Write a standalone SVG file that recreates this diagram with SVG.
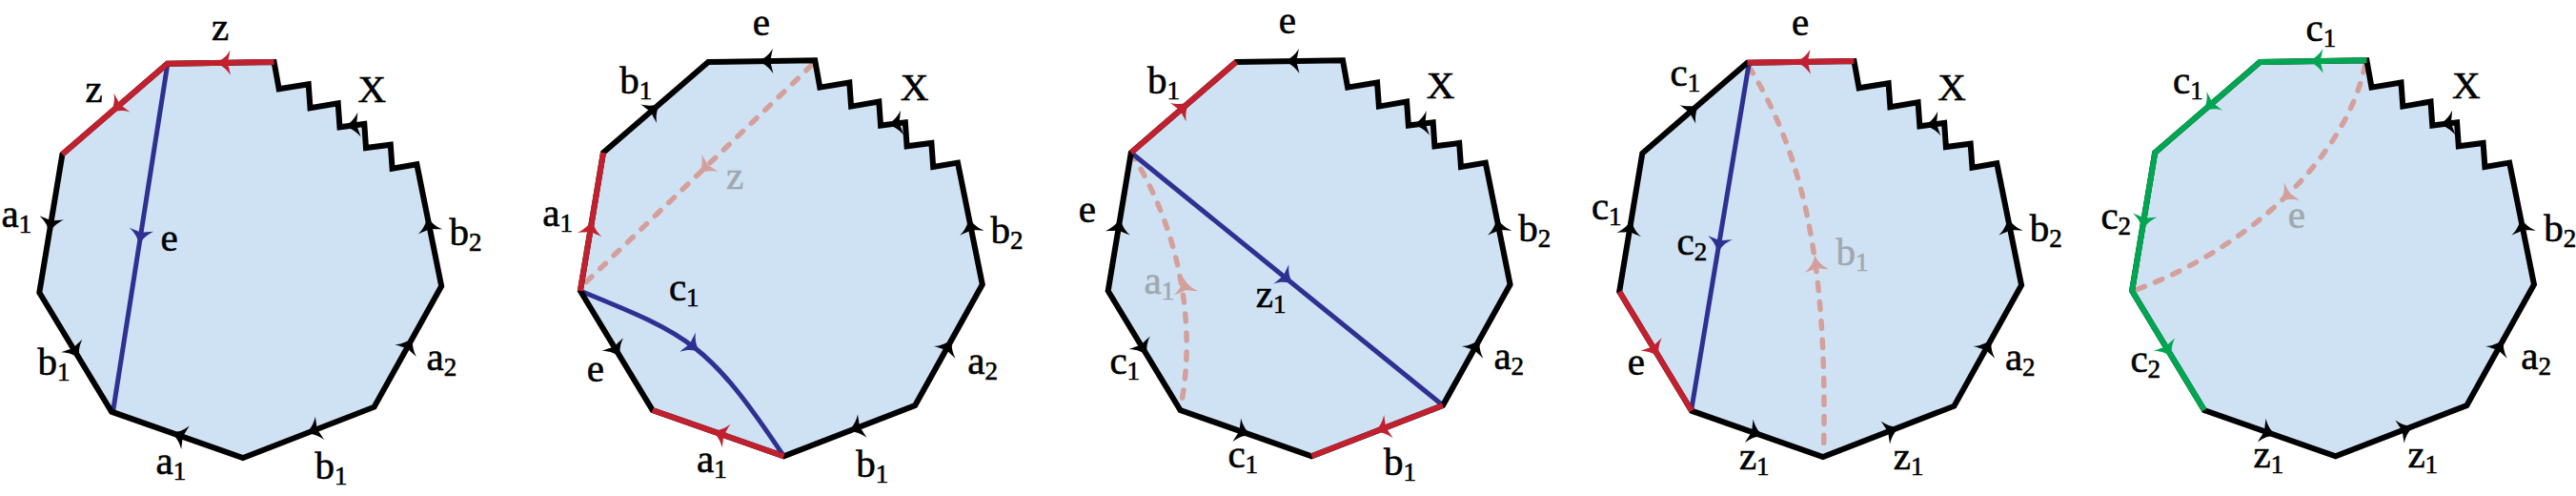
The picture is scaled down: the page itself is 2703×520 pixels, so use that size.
<svg xmlns="http://www.w3.org/2000/svg" xmlns:xlink="http://www.w3.org/1999/xlink" width="2703" height="520" viewBox="0 0 2703 520">
<style>
.pf{fill:#cfe2f3;stroke:none}
.po{fill:none;stroke:#000;stroke-width:6;stroke-linejoin:miter;stroke-miterlimit:10}
.r{fill:none;stroke:#c1202f;stroke-width:6;stroke-linejoin:miter}
.g{fill:none;stroke:#00a651;stroke-width:6;stroke-linejoin:miter}
.bl{fill:none;stroke:#2e3192;stroke-width:5}
.d{fill:none;stroke:#d4a09b;stroke-width:5.5;stroke-dasharray:8 12;stroke-linecap:round}
.ak{fill:#000}.ar{fill:#c1202f}.ab{fill:#2e3192}.ag{fill:#00a651}.ad{fill:#d4a09b}
.t{font-family:"Liberation Serif","Times New Roman",serif;font-size:41px;fill:#000;stroke:#000;stroke-width:0.6}
.gr{fill:#a0a8ae;stroke:#a0a8ae}
.s{font-size:27px}
</style>
<defs>
<path id="poly" d="M0,0 L112,-1.7 L117.1,26.6 L148.1,21.6 L149.9,46.6 L179.1,41.6 L180.9,66.6 L206.7,63.3 L208.4,88.3 L234.2,85 L236,110 L261.8,105.6 L287.6,233.3 L217,360 L79.3,413.3 L-58.5,365 L-134.3,240 L-110.2,95 Z"/>
<path id="ah" d="M2.5,0 C-4,-1.7 -9.8,-5.8 -14.5,-13 C-13.2,-7.5 -12.6,-3.5 -11.3,0 C-12.6,3.5 -13.2,7.5 -14.5,13 C-9.8,5.8 -4,1.7 2.5,0 Z"/>
</defs>

<g id="panel1" transform="translate(175.6,66.7)">
<use href="#poly" class="pf"/>
<g id="p1-connectors">
<path class="bl" d="M0,1.7 L-56.8,363.3"/>
</g>
<use href="#poly" class="po"/>
<path class="r" d="M-110.2,95 L0,0 L112,-1.7"/>
<use href="#ah" class="ar" transform="translate(51.7,-0.8) rotate(179.1)"/>
<use href="#ah" class="ar" transform="translate(-58.5,50.4) rotate(139.2)"/>
<use href="#ah" class="ak" transform="translate(-123.7,176) rotate(99.4)"/>
<use href="#ah" class="ak" transform="translate(-92.9,308.3) rotate(58.8)"/>
<use href="#ah" class="ak" transform="translate(5.2,387.3) rotate(-160.7)"/>
<use href="#ah" class="ak" transform="translate(146.4,387.3) rotate(158.8)"/>
<use href="#ah" class="ak" transform="translate(257,288.3) rotate(-60.9)"/>
<use href="#ah" class="ak" transform="translate(273,162) rotate(-101.4)"/>
<use href="#ah" class="ak" transform="translate(187,65.8) rotate(172.7)"/>
<use href="#ah" class="ab" transform="translate(-29.3,188.3) rotate(98.9)"/>
<text class="t" x="46.5" y="-25">z</text>
<text class="t" x="-86" y="40">z</text>
<text class="t" x="200" y="40">X</text>
<text class="t" x="-174" y="171">a<tspan class="s" dy="6">1</tspan></text>
<text class="t" x="-7" y="196.7">e</text>
<text class="t" x="296" y="190">b<tspan class="s" dy="6">2</tspan></text>
<text class="t" x="-136" y="326.7">b<tspan class="s" dy="6">1</tspan></text>
<text class="t" x="272" y="321.7">a<tspan class="s" dy="6">2</tspan></text>
<text class="t" x="-12" y="430">a<tspan class="s" dy="6">1</tspan></text>
<text class="t" x="155" y="435">b<tspan class="s" dy="6">1</tspan></text>
</g>

<g id="panel2" transform="translate(743.2,65)">
<use href="#poly" class="pf"/>
<g id="p2-connectors">
<path class="d" d="M108.5,3.3 L-129.2,231.7"/>
<path class="bl" d="M-134.3,240 C-18.5,286.9 0,295.3 79.3,413.3"/>
</g>
<use href="#poly" class="po"/>
<path class="r" d="M-134.3,240 L-110.2,95"/>
<path class="r" d="M79.3,413.3 L-58.5,365"/>
<use href="#ah" class="ak" transform="translate(53.4,-0.8) rotate(179.1)"/>
<use href="#ah" class="ak" transform="translate(-51.7,44.6) rotate(-40.8)"/>
<use href="#ah" class="ar" transform="translate(-122.1,166.7) rotate(-80.6)"/>
<use href="#ah" class="ak" transform="translate(-92.9,308.3) rotate(58.8)"/>
<use href="#ah" class="ar" transform="translate(5.2,387.3) rotate(-160.7)"/>
<use href="#ah" class="ak" transform="translate(148,386.7) rotate(158.8)"/>
<use href="#ah" class="ak" transform="translate(255.1,291.7) rotate(-60.9)"/>
<use href="#ah" class="ak" transform="translate(273.8,165) rotate(-101.4)"/>
<use href="#ah" class="ak" transform="translate(189,65.5) rotate(172.7)"/>
<use href="#ah" class="ad" transform="translate(-8.6,116) rotate(136.1)"/>
<use href="#ah" class="ab" transform="translate(-10.35,302.75) rotate(39.3)"/>
<text class="t" x="46.5" y="-28.3">e</text>
<text class="t" x="-93" y="33.3">b<tspan class="s" dy="6">1</tspan></text>
<text class="t" x="201.5" y="40">X</text>
<text class="t gr" x="18.9" y="133.3">z</text>
<text class="t" x="-174" y="171.7">a<tspan class="s" dy="6">1</tspan></text>
<text class="t" x="296.2" y="190">b<tspan class="s" dy="6">2</tspan></text>
<text class="t" x="-41.3" y="250">c<tspan class="s" dy="6">1</tspan></text>
<text class="t" x="-127.4" y="335">e</text>
<text class="t" x="272.1" y="326.7">a<tspan class="s" dy="6">2</tspan></text>
<text class="t" x="-12.1" y="430">a<tspan class="s" dy="6">1</tspan></text>
<text class="t" x="155" y="435">b<tspan class="s" dy="6">1</tspan></text>
</g>

<g id="panel3" transform="translate(1297,65)">
<use href="#poly" class="pf"/>
<g id="p3-connectors">
<path class="d" d="M-110.2,95 C-55,182 -42,285 -58.5,363"/>
<path class="bl" d="M-110.2,95 L217,360"/>
</g>
<use href="#poly" class="po"/>
<path class="r" d="M-110.2,95 L0,0"/>
<path class="r" d="M217,360 L79.3,413.3"/>
<use href="#ah" class="ak" transform="translate(51.7,-0.8) rotate(179.1)"/>
<use href="#ah" class="ar" transform="translate(-49.9,43) rotate(-40.8)"/>
<use href="#ah" class="ak" transform="translate(-121.8,165) rotate(-80.6)"/>
<use href="#ah" class="ak" transform="translate(-93.9,306.7) rotate(58.8)"/>
<use href="#ah" class="ak" transform="translate(14.5,390.6) rotate(19.3)"/>
<use href="#ah" class="ar" transform="translate(146.4,387.3) rotate(158.8)"/>
<use href="#ah" class="ak" transform="translate(255.1,291.7) rotate(-60.9)"/>
<use href="#ah" class="ak" transform="translate(273.8,165) rotate(-101.4)"/>
<use href="#ah" class="ak" transform="translate(187,65.8) rotate(172.7)"/>
<use href="#ah" class="ab" transform="translate(58.5,231.6) rotate(39)"/>
<use href="#ah" class="ad" transform="translate(-55,228) rotate(-100)"/>
<text class="t" x="44.8" y="-30">e</text>
<text class="t" x="-93" y="33.3">b<tspan class="s" dy="6">1</tspan></text>
<text class="t" x="199.8" y="38.3">X</text>
<text class="t" x="-165.3" y="168.3">e</text>
<text class="t" x="296.2" y="188.3">b<tspan class="s" dy="6">2</tspan></text>
<text class="t gr" x="-96.4" y="243.3">a<tspan class="s" dy="6">1</tspan></text>
<text class="t" x="20.7" y="256.7">z<tspan class="s" dy="6">1</tspan></text>
<text class="t" x="-132.6" y="326.7">c<tspan class="s" dy="6">1</tspan></text>
<text class="t" x="270.4" y="321.7">a<tspan class="s" dy="6">2</tspan></text>
<text class="t" x="-8.6" y="425">c<tspan class="s" dy="6">1</tspan></text>
<text class="t" x="155" y="433.3">b<tspan class="s" dy="6">1</tspan></text>
</g>

<g id="panel4" transform="translate(1833.5,65.7)">
<use href="#poly" class="pf"/>
<g id="p4-connectors">
<path class="d" d="M1.7,4.3 C55,90 85,200 80,408"/>
<path class="bl" d="M1.7,1 L-58.5,362.7"/>
</g>
<use href="#poly" class="po"/>
<path class="r" d="M0,0 L112,-1.7"/>
<path class="r" d="M-134.3,240 L-58.5,365"/>
<use href="#ah" class="ar" transform="translate(51.7,-0.8) rotate(179.1)"/>
<use href="#ah" class="ak" transform="translate(-51.7,44.6) rotate(-40.8)"/>
<use href="#ah" class="ak" transform="translate(-122,166) rotate(-80.6)"/>
<use href="#ah" class="ar" transform="translate(-93.4,307.7) rotate(58.8)"/>
<use href="#ah" class="ak" transform="translate(15.5,390.9) rotate(19.3)"/>
<use href="#ah" class="ak" transform="translate(158.4,382.7) rotate(-21.2)"/>
<use href="#ah" class="ak" transform="translate(255.5,291) rotate(-60.9)"/>
<use href="#ah" class="ak" transform="translate(273.6,164.3) rotate(-101.4)"/>
<use href="#ah" class="ak" transform="translate(187,65.8) rotate(172.7)"/>
<use href="#ah" class="ab" transform="translate(-31,197.7) rotate(99.4)"/>
<use href="#ah" class="ad" transform="translate(71,204) rotate(-98)"/>
<text class="t" x="46.5" y="-29">e</text>
<text class="t" x="-80.9" y="24.3">c<tspan class="s" dy="6">1</tspan></text>
<text class="t" x="199.8" y="39.3">X</text>
<text class="t" x="-163.6" y="164.3">c<tspan class="s" dy="6">1</tspan></text>
<text class="t" x="-74" y="201">c<tspan class="s" dy="6">2</tspan></text>
<text class="t gr" x="93" y="212.7">b<tspan class="s" dy="6">1</tspan></text>
<text class="t" x="296.2" y="187.7">b<tspan class="s" dy="6">2</tspan></text>
<text class="t" x="-125.7" y="327.7">e</text>
<text class="t" x="270.4" y="322.7">a<tspan class="s" dy="6">2</tspan></text>
<text class="t" x="-8.6" y="426">z<tspan class="s" dy="6">1</tspan></text>
<text class="t" x="153.3" y="426">z<tspan class="s" dy="6">1</tspan></text>
</g>

<g id="panel5" transform="translate(2371.4,65)">
<use href="#poly" class="pf"/>
<g id="p5-connectors">
<path class="d" d="M110.2,3.3 C92,95 -5,192 -128.5,238.3"/>
</g>
<use href="#poly" class="po"/>
<path class="g" d="M-58.5,365 L-134.3,240 L-110.2,95 L0,0 L112,-1.7"/>
<use href="#ah" class="ag" transform="translate(51.7,-0.8) rotate(179.1)"/>
<use href="#ah" class="ag" transform="translate(-58.5,50.4) rotate(139.2)"/>
<use href="#ah" class="ag" transform="translate(-123,175) rotate(99.4)"/>
<use href="#ah" class="ag" transform="translate(-92.9,308.3) rotate(58.8)"/>
<use href="#ah" class="ak" transform="translate(15.5,390.9) rotate(19.3)"/>
<use href="#ah" class="ak" transform="translate(160.1,382.5) rotate(-21.2)"/>
<use href="#ah" class="ak" transform="translate(255.1,291.7) rotate(-60.9)"/>
<use href="#ah" class="ak" transform="translate(273.8,165) rotate(-101.4)"/>
<use href="#ah" class="ak" transform="translate(189,65.5) rotate(172.7)"/>
<use href="#ah" class="ad" transform="translate(22.6,145.2) rotate(139)"/>
<text class="t" x="48.2" y="-21.7">c<tspan class="s" dy="6">1</tspan></text>
<text class="t" x="-91.3" y="33.3">c<tspan class="s" dy="6">1</tspan></text>
<text class="t" x="201.5" y="38.3">X</text>
<text class="t" x="-167" y="175">c<tspan class="s" dy="6">2</tspan></text>
<text class="t gr" x="29.3" y="174.3">e</text>
<text class="t" x="297.9" y="188.3">b<tspan class="s" dy="6">2</tspan></text>
<text class="t" x="-136" y="325">c<tspan class="s" dy="6">2</tspan></text>
<text class="t" x="273.8" y="321.7">a<tspan class="s" dy="6">2</tspan></text>
<text class="t" x="-6.9" y="425">z<tspan class="s" dy="6">1</tspan></text>
<text class="t" x="155" y="425">z<tspan class="s" dy="6">1</tspan></text>
</g>
</svg>
